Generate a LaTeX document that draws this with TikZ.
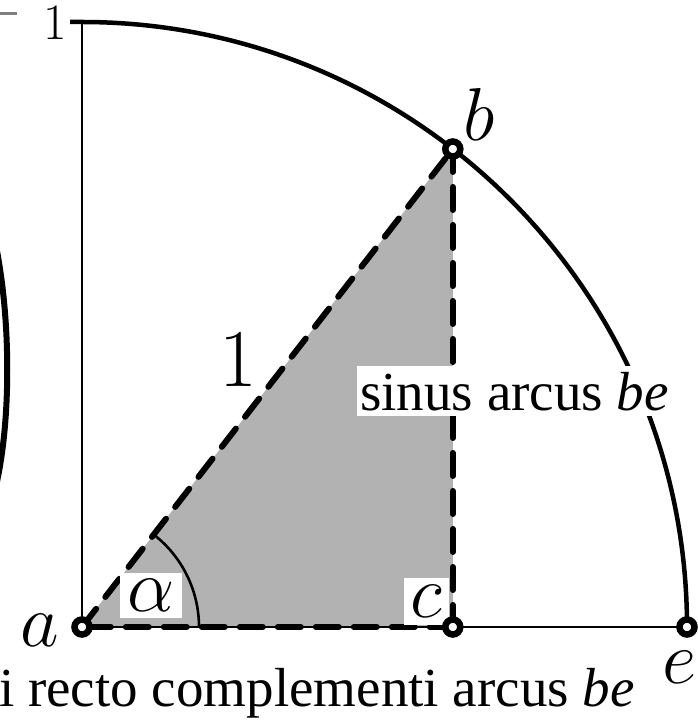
\RequirePackage{fix-cm}
\documentclass[tikz,border=0pt]{standalone}
\usepackage{fontspec}
\setmainfont{Liberation Serif}
\begin{document}
\begin{tikzpicture}[x=1pt,y=1pt,
  thinline/.style={line width=2.5pt},
  arcline/.style={line width=4.5pt},
  dline/.style={line width=6pt, dash pattern=on 23pt off 15pt, line cap=round},
  ptmark/.style={circle, draw, fill=white, line width=6.5pt, minimum size=15pt, inner sep=0pt},
  mathlbl/.style={inner sep=0pt, font=\fontsize{75}{90}\selectfont},
  wbox/.style={fill=white, inner sep=0pt},
  txt/.style={inner sep=0pt, font=\fontsize{55}{64}\selectfont}]
\useasboundingbox (0,0) rectangle (698,721);
\coordinate (a) at (82,94);
\path (a) ++(52.2:605) coordinate (b);
\coordinate (c) at (b |- a);
\coordinate (e) at (687,94);
\coordinate (top) at (82,699);
\coordinate (tick) at (70,699);
\coordinate (alstart) at (199,94);
% fragments of a neighbouring figure at the left edge
\draw[line width=6pt] (-4,475) .. controls (11,400) and (11,300) .. (-4,235);
\draw[line width=3pt, black!50] (0,707) -- (17,707);
% shaded triangle
\fill[black!30] (a) -- (b) -- (c) -- cycle;
% axes and quadrant
\draw[thinline] (a) -- (top);
\draw[thinline] (a) -- (e);
\draw[arcline] (tick) -- (top) arc[start angle=90, end angle=0, radius=605];
% angle arc
\draw[line width=2.6pt] (alstart) arc[start angle=0, end angle=52.2, radius=117];
% dashed triangle
\draw[dline] (a) -- (b);
\draw[dline] (b) -- (c);
\draw[dline] (c) -- (a);
% boxed labels
\node[wbox, mathlbl, minimum width=62pt, minimum height=45pt] (alpha) at (151,125.5) {$\alpha$};
\node[wbox, mathlbl, minimum width=45pt, minimum height=47pt] (cl) at (426.5,119.5) {$c$};
\node[wbox, txt, minimum width=315pt, minimum height=50pt] (sinus) at (514.5,329.5) {sinus arcus \textit{be}};
% point marks
\node[ptmark] (A) at (a) {};
\node[ptmark] (B) at (b) {};
\node[ptmark] (C) at (c) {};
\node[ptmark] (E) at (e) {};
% letter labels
\node[mathlbl] (la) at (40,91) {$a$};
\node[mathlbl] (lb) at (479,607) {$b$};
\node[mathlbl] (le) at (680,54) {$e$};
\node[inner sep=0pt, font=\fontsize{82}{96}\selectfont] (one) at (238,361) {$1$};
\node[inner sep=0pt, font=\fontsize{51}{60}\selectfont] (onetop) at (55,697.5) {$1$};
% bottom caption
\node[txt, anchor=base west] (bottom) at (-1,14) {i recto complementi arcus \textit{be}};
\end{tikzpicture}
\end{document}
